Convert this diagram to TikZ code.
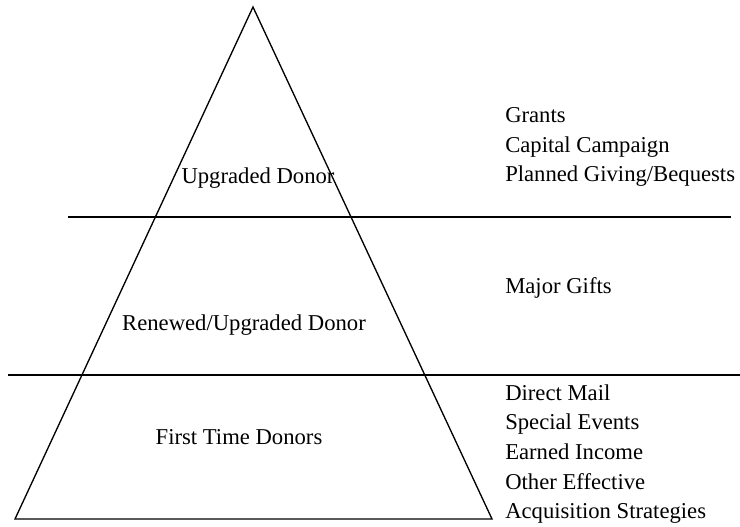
\documentclass[tikz,border=0pt]{standalone}
\usepackage{fontspec}
\setmainfont{Liberation Serif}

\tikzset{
  tier/.style    = {inner sep = 0pt, font = \fontsize{17}{22}\selectfont},
  source/.style  = {inner sep = 0pt, anchor = west, align = left,
                    font = \fontsize{17}{22.2}\selectfont},
  divider/.style = {line width = 1.9pt},
}

\begin{document}
\begin{tikzpicture}[x = 0.75pt, y = -0.75pt]
        \useasboundingbox (0, 0) rectangle (740, 526);

        % ------------------------------------------------------------------------
        % Pyramid
        \coordinate (apex) at (253, 7);
        \coordinate (bl)   at ( 15, 519);
        \coordinate (br)   at (492, 519);

        \draw[line width = 1pt, line join = miter]
          (apex) -- (bl) -- (br) -- cycle
        ;

        % ------------------------------------------------------------------------
        % Dividers
        \coordinate (d1l) at ( 68, 217);
        \coordinate (d1r) at (731, 217);
        \coordinate (d2l) at (  8, 375);
        \coordinate (d2r) at (740, 375);

        \draw[divider]
          (d1l) -- (d1r)
          (d2l) -- (d2r)
        ;

        % ------------------------------------------------------------------------
        % Tiers
        \node[tier] at (258, 178) (upgraded) {Upgraded Donor};
        \node[tier] at (244, 325) (renewed)  {Renewed/Upgraded Donor};
        \node[tier] at (239, 437) (first)    {First Time Donors};

        % ------------------------------------------------------------------------
        % Sources
        \node[source] at (505, 147) (grants) {Grants\\Capital Campaign\\Planned Giving/Bequests};
        \node[source] at (505, 288) (major)  {Major Gifts};
        \node[source] at (505, 454) (direct) {Direct Mail\\Special Events\\Earned Income\\Other Effective\\Acquisition Strategies};
      \end{tikzpicture}
\end{document}
